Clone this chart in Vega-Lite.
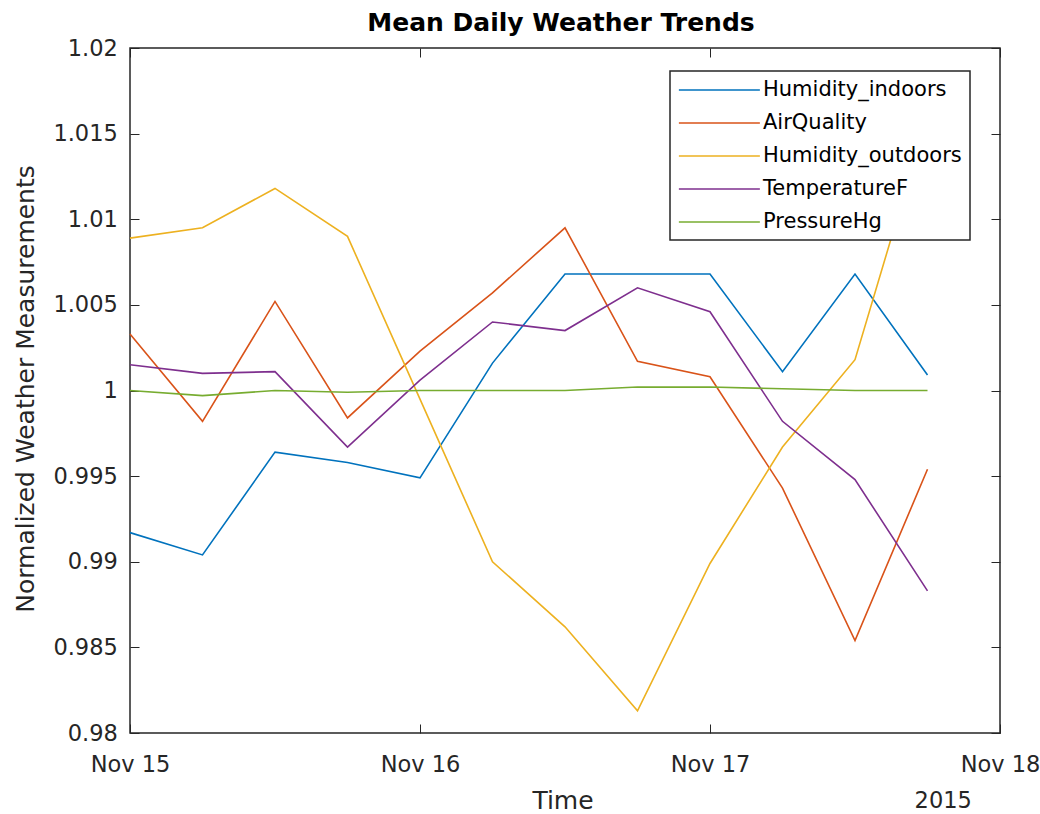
{
  "$schema": "https://vega.github.io/schema/vega-lite/v6.json",
  "width": 870,
  "height": 685,
  "autosize": {"type": "none"},
  "padding": {"left": 130, "top": 48, "right": 40, "bottom": 81},
  "background": "white",
  "config": {
    "font": "DejaVu Sans",
    "view": {"stroke": "#262626", "strokeWidth": 1.5},
    "title": {"frame": "group"},
    "axis": {"grid": false, "domain": false, "tickColor": "#262626", "tickWidth": 1, "tickSize": -9, "labelColor": "#262626", "titleColor": "#262626", "labelFont": "DejaVu Sans", "titleFont": "DejaVu Sans", "titleFontWeight": "normal"}
  },
  "title": {"text": "Mean Daily Weather Trends", "fontSize": 25, "fontWeight": "bold", "color": "#000000", "anchor": "middle", "offset": 1, "dx": -4},
  "data": {"values": [
    {"series": "Humidity_indoors", "t": "2015-11-15T00:00:00", "v": 0.9917},
    {"series": "Humidity_indoors", "t": "2015-11-15T06:00:00", "v": 0.9904},
    {"series": "Humidity_indoors", "t": "2015-11-15T12:00:00", "v": 0.9964},
    {"series": "Humidity_indoors", "t": "2015-11-15T18:00:00", "v": 0.9958},
    {"series": "Humidity_indoors", "t": "2015-11-16T00:00:00", "v": 0.9949},
    {"series": "Humidity_indoors", "t": "2015-11-16T06:00:00", "v": 1.0016},
    {"series": "Humidity_indoors", "t": "2015-11-16T12:00:00", "v": 1.0068},
    {"series": "Humidity_indoors", "t": "2015-11-16T18:00:00", "v": 1.0068},
    {"series": "Humidity_indoors", "t": "2015-11-17T00:00:00", "v": 1.0068},
    {"series": "Humidity_indoors", "t": "2015-11-17T06:00:00", "v": 1.0011},
    {"series": "Humidity_indoors", "t": "2015-11-17T12:00:00", "v": 1.0068},
    {"series": "Humidity_indoors", "t": "2015-11-17T18:00:00", "v": 1.0009},
    {"series": "AirQuality", "t": "2015-11-15T00:00:00", "v": 1.0033},
    {"series": "AirQuality", "t": "2015-11-15T06:00:00", "v": 0.9982},
    {"series": "AirQuality", "t": "2015-11-15T12:00:00", "v": 1.0052},
    {"series": "AirQuality", "t": "2015-11-15T18:00:00", "v": 0.9984},
    {"series": "AirQuality", "t": "2015-11-16T00:00:00", "v": 1.0023},
    {"series": "AirQuality", "t": "2015-11-16T06:00:00", "v": 1.0057},
    {"series": "AirQuality", "t": "2015-11-16T12:00:00", "v": 1.0095},
    {"series": "AirQuality", "t": "2015-11-16T18:00:00", "v": 1.0017},
    {"series": "AirQuality", "t": "2015-11-17T00:00:00", "v": 1.0008},
    {"series": "AirQuality", "t": "2015-11-17T06:00:00", "v": 0.9943},
    {"series": "AirQuality", "t": "2015-11-17T12:00:00", "v": 0.9854},
    {"series": "AirQuality", "t": "2015-11-17T18:00:00", "v": 0.9954},
    {"series": "Humidity_outdoors", "t": "2015-11-15T00:00:00", "v": 1.0089},
    {"series": "Humidity_outdoors", "t": "2015-11-15T06:00:00", "v": 1.0095},
    {"series": "Humidity_outdoors", "t": "2015-11-15T12:00:00", "v": 1.0118},
    {"series": "Humidity_outdoors", "t": "2015-11-15T18:00:00", "v": 1.0090},
    {"series": "Humidity_outdoors", "t": "2015-11-16T00:00:00", "v": 0.9995},
    {"series": "Humidity_outdoors", "t": "2015-11-16T06:00:00", "v": 0.9900},
    {"series": "Humidity_outdoors", "t": "2015-11-16T12:00:00", "v": 0.9862},
    {"series": "Humidity_outdoors", "t": "2015-11-16T18:00:00", "v": 0.9813},
    {"series": "Humidity_outdoors", "t": "2015-11-17T00:00:00", "v": 0.9899},
    {"series": "Humidity_outdoors", "t": "2015-11-17T06:00:00", "v": 0.9967},
    {"series": "Humidity_outdoors", "t": "2015-11-17T12:00:00", "v": 1.0018},
    {"series": "Humidity_outdoors", "t": "2015-11-17T18:00:00", "v": 1.0160},
    {"series": "TemperatureF", "t": "2015-11-15T00:00:00", "v": 1.0015},
    {"series": "TemperatureF", "t": "2015-11-15T06:00:00", "v": 1.0010},
    {"series": "TemperatureF", "t": "2015-11-15T12:00:00", "v": 1.0011},
    {"series": "TemperatureF", "t": "2015-11-15T18:00:00", "v": 0.9967},
    {"series": "TemperatureF", "t": "2015-11-16T00:00:00", "v": 1.0006},
    {"series": "TemperatureF", "t": "2015-11-16T06:00:00", "v": 1.0040},
    {"series": "TemperatureF", "t": "2015-11-16T12:00:00", "v": 1.0035},
    {"series": "TemperatureF", "t": "2015-11-16T18:00:00", "v": 1.0060},
    {"series": "TemperatureF", "t": "2015-11-17T00:00:00", "v": 1.0046},
    {"series": "TemperatureF", "t": "2015-11-17T06:00:00", "v": 0.9982},
    {"series": "TemperatureF", "t": "2015-11-17T12:00:00", "v": 0.9948},
    {"series": "TemperatureF", "t": "2015-11-17T18:00:00", "v": 0.9883},
    {"series": "PressureHg", "t": "2015-11-15T00:00:00", "v": 1.0000},
    {"series": "PressureHg", "t": "2015-11-15T06:00:00", "v": 0.9997},
    {"series": "PressureHg", "t": "2015-11-15T12:00:00", "v": 1.0000},
    {"series": "PressureHg", "t": "2015-11-15T18:00:00", "v": 0.9999},
    {"series": "PressureHg", "t": "2015-11-16T00:00:00", "v": 1.0000},
    {"series": "PressureHg", "t": "2015-11-16T06:00:00", "v": 1.0000},
    {"series": "PressureHg", "t": "2015-11-16T12:00:00", "v": 1.0000},
    {"series": "PressureHg", "t": "2015-11-16T18:00:00", "v": 1.0002},
    {"series": "PressureHg", "t": "2015-11-17T00:00:00", "v": 1.0002},
    {"series": "PressureHg", "t": "2015-11-17T06:00:00", "v": 1.0001},
    {"series": "PressureHg", "t": "2015-11-17T12:00:00", "v": 1.0000},
    {"series": "PressureHg", "t": "2015-11-17T18:00:00", "v": 1.0000}
  ]},
  "layer": [
    {
      "mark": {"type": "line", "strokeWidth": 1.6},
      "encoding": {
        "x": {
          "field": "t", "type": "temporal",
          "scale": {"domain": [{"year": 2015, "month": 11, "date": 15}, {"year": 2015, "month": 11, "date": 18}], "nice": false},
          "axis": {
            "orient": "bottom",
            "values": [{"year": 2015, "month": 11, "date": 15}, {"year": 2015, "month": 11, "date": 16}, {"year": 2015, "month": 11, "date": 17}, {"year": 2015, "month": 11, "date": 18}],
            "format": "%b %d",
            "labelFontSize": 22.5,
            "labelBaseline": "alphabetic",
            "labelPadding": 47.7,
            "labelFlush": false,
            "labelOverlap": false,
            "title": "Time",
            "titleFontSize": 25,
            "titleBaseline": "alphabetic",
            "titleAlign": "center",
            "titleX": 432.5,
            "titleY": 75
          }
        },
        "y": {
          "field": "v", "type": "quantitative",
          "scale": {"domain": [0.98, 1.02], "zero": false, "nice": false},
          "axis": {
            "orient": "left",
            "values": [0.98, 0.985, 0.99, 0.995, 1, 1.005, 1.01, 1.015, 1.02],
            "format": "~g",
            "labelFontSize": 22.5,
            "labelPadding": 21.7,
            "labelBaseline": "middle",
            "labelFlush": false,
            "labelOverlap": false,
            "title": "Normalized Weather Measurements",
            "titleFontSize": 25,
            "titleAngle": -90,
            "titleBaseline": "alphabetic",
            "titleAlign": "center",
            "titleX": -96.7,
            "titleY": 340.5
          }
        },
        "color": {
          "field": "series", "type": "nominal",
          "scale": {"domain": ["Humidity_indoors", "AirQuality", "Humidity_outdoors", "TemperatureF", "PressureHg"], "range": ["#0072BD", "#D95319", "#EDB120", "#7E2F8E", "#77AC30"]},
          "legend": {
            "title": null,
            "orient": "none",
            "legendX": 540,
            "legendY": 23,
            "symbolType": "M-1,0H7",
            "symbolSize": 410,
            "symbolStrokeWidth": 1.6,
            "labelOffset": 63,
            "labelFontSize": 21,
            "labelFont": "DejaVu Sans",
            "labelColor": "#000000",
            "labelLimit": 0,
            "padding": 8,
            "rowPadding": 12,
            "fillColor": "white",
            "strokeColor": "#262626",
            "encode": {"legend": {"update": {"strokeWidth": {"value": 1.5}}}}
          }
        }
      }
    },
    {
      "data": {"values": [{"label": "2015"}]},
      "mark": {"type": "text", "fontSize": 22.5, "font": "DejaVu Sans", "color": "#262626", "align": "center", "baseline": "alphabetic"},
      "encoding": {
        "x": {
          "datum": {"year": 2015, "month": 11, "date": 17, "hours": 19, "minutes": 18},
          "type": "temporal",
          "scale": {"domain": [{"year": 2015, "month": 11, "date": 15}, {"year": 2015, "month": 11, "date": 18}], "nice": false},
          "axis": {"orient": "top", "labels": false, "title": null, "values": [{"year": 2015, "month": 11, "date": 15}, {"year": 2015, "month": 11, "date": 16}, {"year": 2015, "month": 11, "date": 17}, {"year": 2015, "month": 11, "date": 18}]}
        },
        "y": {
          "datum": 0.97562,
          "type": "quantitative",
          "scale": {"domain": [0.98, 1.02], "zero": false, "nice": false},
          "axis": {"orient": "right", "labels": false, "title": null, "values": [0.98, 0.985, 0.99, 0.995, 1, 1.005, 1.01, 1.015, 1.02]}
        },
        "text": {"field": "label", "type": "nominal"}
      }
    }
  ],
  "resolve": {"axis": {"x": "independent", "y": "independent"}}
}
